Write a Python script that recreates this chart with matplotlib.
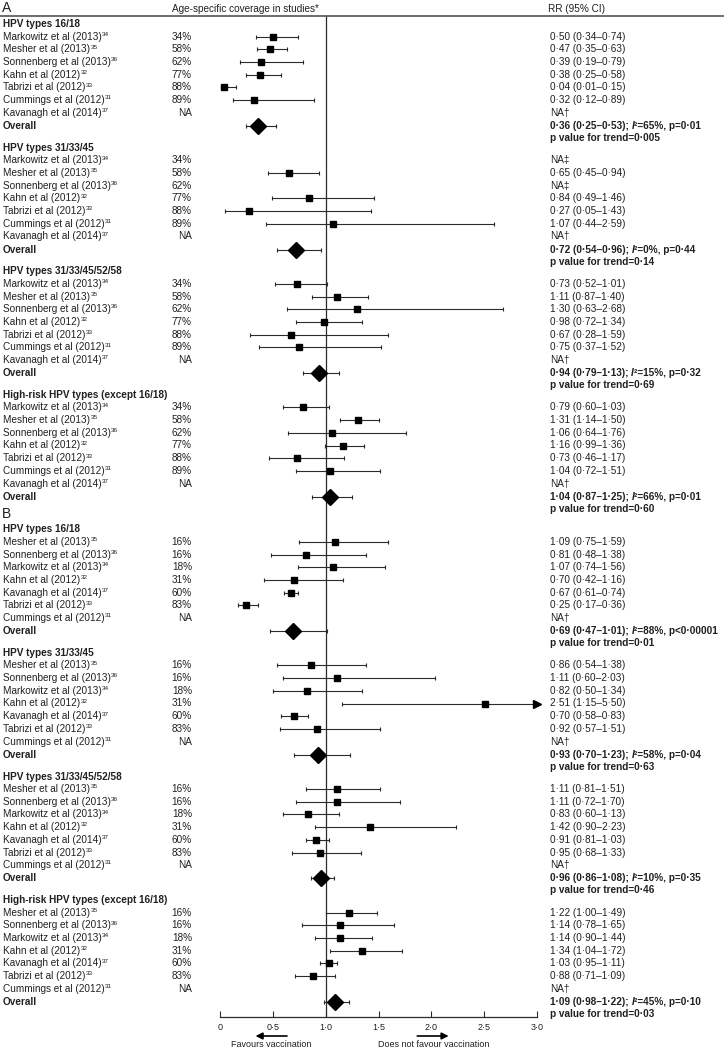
import numpy as np
import matplotlib.pyplot as plt
from matplotlib import transforms
from matplotlib.lines import Line2D
from matplotlib import font_manager as fm

names = {f.name for f in fm.fontManager.ttflist}
base_font = 'Liberation Sans Narrow' if 'Liberation Sans Narrow' in names else 'Liberation Sans'
plt.rcParams['font.family'] = [base_font, 'DejaVu Sans']

# ---- data ----
groups = ['HPV types 16/18', 'HPV types 31/33/45', 'HPV types 31/33/45/52/58',
          'High-risk HPV types (except 16/18)']

studies_a = ['Markowitz et al (2013)', 'Mesher et al (2013)', 'Sonnenberg et al (2013)',
             'Kahn et al (2012)', 'Tabrizi et al (2012)', 'Cummings et al (2012)',
             'Kavanagh et al (2014)']
refs_a = ['34', '35', '36', '32', '33', '31', '37']
coverage_a = [34, 58, 62, 77, 88, 89, None]

studies_b = ['Mesher et al (2013)', 'Sonnenberg et al (2013)', 'Markowitz et al (2013)',
             'Kahn et al (2012)', 'Kavanagh et al (2014)', 'Tabrizi et al (2012)',
             'Cummings et al (2012)']
refs_b = ['35', '36', '34', '32', '37', '33', '31']
coverage_b = [16, 16, 18, 31, 60, 83, None]

nan = np.nan
# panel A
rr_a = [[0.50, 0.47, 0.39, 0.38, 0.04, 0.32, nan],
        [nan, 0.65, nan, 0.84, 0.27, 1.07, nan],
        [0.73, 1.11, 1.30, 0.98, 0.67, 0.75, nan],
        [0.79, 1.31, 1.06, 1.16, 0.73, 1.04, nan]]
lo_a = [[0.34, 0.35, 0.19, 0.25, 0.01, 0.12, nan],
        [nan, 0.45, nan, 0.49, 0.05, 0.44, nan],
        [0.52, 0.87, 0.63, 0.72, 0.28, 0.37, nan],
        [0.60, 1.14, 0.64, 0.99, 0.46, 0.72, nan]]
hi_a = [[0.74, 0.63, 0.79, 0.58, 0.15, 0.89, nan],
        [nan, 0.94, nan, 1.46, 1.43, 2.59, nan],
        [1.01, 1.40, 2.68, 1.34, 1.59, 1.52, nan],
        [1.03, 1.50, 1.76, 1.36, 1.17, 1.51, nan]]
na_a = [[None] * 6 + ['NA†'],
        ['NA‡', None, 'NA‡', None, None, None, 'NA†'],
        [None] * 6 + ['NA†'],
        [None] * 6 + ['NA†']]
ov_rr_a = [0.36, 0.72, 0.94, 1.04]
ov_lo_a = [0.25, 0.54, 0.79, 0.87]
ov_hi_a = [0.53, 0.96, 1.13, 1.25]
i2_a = [65, 0, 15, 66]
p_a = ['=0·01', '=0·44', '=0·32', '=0·01']
trend_a = ['0·005', '0·14', '0·69', '0·60']

# panel B
rr_b = [[1.09, 0.81, 1.07, 0.70, 0.67, 0.25, nan],
        [0.86, 1.11, 0.82, 2.51, 0.70, 0.92, nan],
        [1.11, 1.11, 0.83, 1.42, 0.91, 0.95, nan],
        [1.22, 1.14, 1.14, 1.34, 1.03, 0.88, nan]]
lo_b = [[0.75, 0.48, 0.74, 0.42, 0.61, 0.17, nan],
        [0.54, 0.60, 0.50, 1.15, 0.58, 0.57, nan],
        [0.81, 0.72, 0.60, 0.90, 0.81, 0.68, nan],
        [1.00, 0.78, 0.90, 1.04, 0.95, 0.71, nan]]
hi_b = [[1.59, 1.38, 1.56, 1.16, 0.74, 0.36, nan],
        [1.38, 2.03, 1.34, 5.50, 0.83, 1.51, nan],
        [1.51, 1.70, 1.13, 2.23, 1.03, 1.33, nan],
        [1.49, 1.65, 1.44, 1.72, 1.11, 1.09, nan]]
na_b = [[None] * 6 + ['NA†'] for _ in range(4)]
ov_rr_b = [0.69, 0.93, 0.96, 1.09]
ov_lo_b = [0.47, 0.70, 0.86, 0.98]
ov_hi_b = [1.01, 1.23, 1.08, 1.22]
i2_b = [88, 58, 10, 45]
p_b = ['<0·00001', '=0·04', '=0·35', '=0·10']
trend_b = ['0·01', '0·63', '0·46', '0·03']

xticks = [0, 0.5, 1.0, 1.5, 2.0, 2.5, 3.0]

# ---- layout (pixel rows) ----
W, H = 724, 1048
TEXT = '#231f20'
LINE = '#2b2b2b'
FS = 7.2
top_line = 15.7
axis_y = 1017
group_step = 123.6
panel_tops = {'A': 24.3, 'B': 529.5}


def fmt(v):
    return f'{v:.2f}'.replace('.', '·')


fig = plt.figure(figsize=(W / 100, H / 100), dpi=100)
ax = fig.add_axes([220 / W, 1 - axis_y / H, 317 / W, (axis_y - top_line) / H])
ax.set_xlim(0, 3)
ax.set_ylim(axis_y, top_line)
blend = transforms.blended_transform_factory(fig.transFigure, ax.transData)


def ftext(px, y, s, **kw):
    kw.setdefault('fontsize', FS)
    kw.setdefault('color', TEXT)
    kw.setdefault('va', 'center')
    return fig.text(px / W, y, s, transform=blend, **kw)


def chain(px, y, parts, **kw):
    # consecutive pieces of one line, each placed after the previous one
    t = ftext(px, y, parts[0][0], fontstyle=parts[0][1], **kw)
    for s, style in parts[1:]:
        t = ax.annotate(s, xy=(1, 0.5), xycoords=t, va='center', ha='left',
                        fontsize=FS, color=TEXT, fontstyle=style, **kw)
    return t


def draw_ci(y, r, lo, hi, marker, ms):
    hi_c = min(hi, 3.0)
    ax.plot([lo, hi_c], [y, y], color=LINE, lw=0.8, zorder=2)
    ax.plot([lo], [y], marker='|', color=LINE, ms=3.5, mew=0.8, zorder=2)
    if hi > 3.0:
        ax.plot([3.0], [y], marker='>', color='black', ms=6, zorder=3, clip_on=False)
    else:
        ax.plot([hi], [y], marker='|', color=LINE, ms=3.5, mew=0.8, zorder=2)
    ax.plot([r], [y], marker=marker, color='black', ms=ms, zorder=3, clip_on=False)


def draw_panel(label, studies, refs, coverage, rr, lo, hi, na, ov_rr, ov_lo, ov_hi, i2, p, trend):
    top = panel_tops[label]
    ftext(2, top - 16 if label == 'A' else top - 15, label, fontsize=10)
    for g, gname in enumerate(groups):
        y0 = top + g * group_step
        ftext(3, y0, gname, fontweight='bold')
        for i, name in enumerate(studies):
            y = y0 + 12.3 + 12.7 * i
            t = ftext(3, y, name)
            ax.annotate(refs[i], xy=(1, 0.72), xycoords=t, va='center', ha='left',
                        fontsize=4.6, color=TEXT, xytext=(0.3, 0), textcoords='offset points')
            cov = coverage[i]
            ftext(192, y, f'{cov}%' if cov is not None else 'NA', ha='right')
            if np.isnan(rr[g][i]):
                ftext(550, y, na[g][i])
            else:
                ftext(550, y, f'{fmt(rr[g][i])} ({fmt(lo[g][i])}–{fmt(hi[g][i])})')
                draw_ci(y, rr[g][i], lo[g][i], hi[g][i], 's', 5)
        y = y0 + 101.7
        ftext(3, y, 'Overall', fontweight='bold')
        chain(550, y, [(f'{fmt(ov_rr[g])} ({fmt(ov_lo[g])}–{fmt(ov_hi[g])}); ', 'normal'),
                       ('I', 'italic'),
                       (f'²={i2[g]}%, p{p[g]}', 'normal')], fontweight='bold')
        draw_ci(y, ov_rr[g], ov_lo[g], ov_hi[g], 'D', 8.5)
        ftext(550, y0 + 113.7, f'p value for trend={trend[g]}', fontweight='bold')


draw_panel('A', studies_a, refs_a, coverage_a, rr_a, lo_a, hi_a, na_a,
           ov_rr_a, ov_lo_a, ov_hi_a, i2_a, p_a, trend_a)
draw_panel('B', studies_b, refs_b, coverage_b, rr_b, lo_b, hi_b, na_b,
           ov_rr_b, ov_lo_b, ov_hi_b, i2_b, p_b, trend_b)

# header
ftext(172, 9.5, 'Age-specific coverage in studies*')
ftext(548, 9.5, 'RR (95% CI)')
fig.add_artist(Line2D([0, 1], [top_line, top_line], transform=blend, color='#555555', lw=1.2))

# reference line and axis
ax.axvline(1.0, color=LINE, lw=0.9, zorder=1)
for s in ['top', 'left', 'right']:
    ax.spines[s].set_visible(False)
ax.spines['bottom'].set_color(LINE)
ax.spines['bottom'].set_linewidth(0.9)
ax.set_yticks([])
ax.set_xticks(xticks)
ax.set_xticklabels(['0' if t == 0 else fmt(t)[:3] for t in xticks], fontsize=6.5, color=TEXT)
ax.tick_params(axis='x', direction='in', length=4, width=0.8, color=LINE, pad=4)
ax.patch.set_alpha(0)

# direction arrows
ax.annotate('', xy=(0.31, 1036), xytext=(0.66, 1036), annotation_clip=False,
            arrowprops=dict(arrowstyle='-|>', color='black', lw=1.2, mutation_scale=10))
ax.annotate('', xy=(2.19, 1036), xytext=(1.84, 1036), annotation_clip=False,
            arrowprops=dict(arrowstyle='-|>', color='black', lw=1.2, mutation_scale=10))
ax.text(0.48, 1044.5, 'Favours vaccination', fontsize=6.5, color=TEXT, ha='center', va='center', clip_on=False)
ax.text(2.02, 1044.5, 'Does not favour vaccination', fontsize=6.5, color=TEXT, ha='center', va='center', clip_on=False)

fig.savefig('out.png', dpi=100)
